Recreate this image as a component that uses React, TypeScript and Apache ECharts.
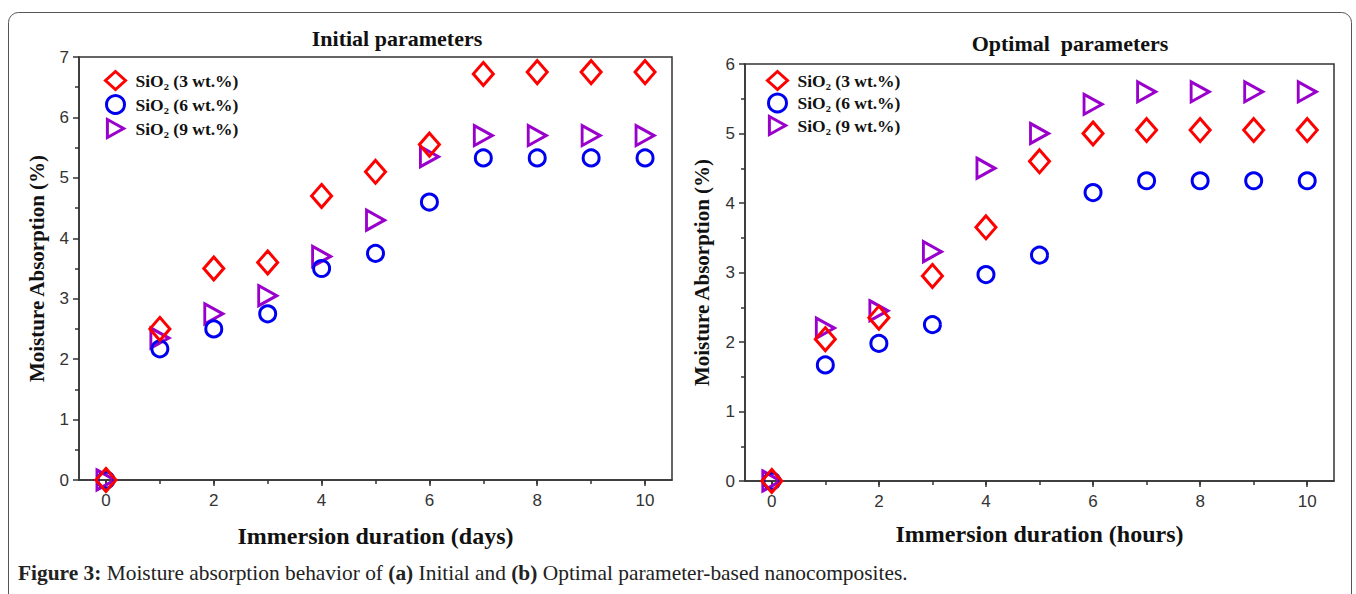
import React, { useEffect, useRef } from "react";
import * as echarts from "echarts";

const days = ["0", "1", "2", "3", "4", "5", "6", "7", "8", "9", "10"];
const seriesNames = ["SiO₂ (3 wt.%)", "SiO₂ (6 wt.%)", "SiO₂ (9 wt.%)"];

const initial3 = [0, 2.5, 3.5, 3.6, 4.7, 5.1, 5.55, 6.72, 6.75, 6.75, 6.75];
const initial6 = [0, 2.17, 2.5, 2.75, 3.5, 3.75, 4.6, 5.33, 5.33, 5.33, 5.33];
const initial9 = [0, 2.35, 2.75, 3.05, 3.7, 4.3, 5.35, 5.7, 5.7, 5.7, 5.7];

const optimal3 = [0, 2.04, 2.35, 2.95, 3.65, 4.6, 5.0, 5.05, 5.05, 5.05, 5.05];
const optimal6 = [0, 1.67, 1.98, 2.25, 2.97, 3.25, 4.15, 4.32, 4.32, 4.32, 4.32];
const optimal9 = [0, 2.2, 2.45, 3.3, 4.5, 5.0, 5.42, 5.6, 5.6, 5.6, 5.6];

const titles = ["Initial parameters", "Optimal  parameters"];
const xNames = ["Immersion duration (days)", "Immersion duration (hours)"];
const yName = "Moisture Absorption (%)";
const yMax = [7, 6];

const RED = "#ff0000";
const BLUE = "#0000f0";
const PURPLE = "#9900cc";

const serif = "'Liberation Serif', 'DejaVu Serif', serif";
const sans = "'Liberation Sans', Arial, sans-serif";

const TRI = "path://M0,0L18,10L0,20Z";

const symbolDefs = [
  { symbol: "diamond", size: [20, 23], color: RED },
  { symbol: "circle", size: [16, 16], color: BLUE },
  { symbol: TRI, size: [18, 20], color: PURPLE },
];

export default function App() {
  const ref = useRef<HTMLDivElement>(null);
  useEffect(() => {
    if (!ref.current) return;
    const chart = echarts.init(ref.current, undefined, { renderer: "svg" });

    const grids = [
      { left: 79, top: 57, width: 593, height: 423 },
      { left: 745, top: 64, width: 589, height: 417 },
    ];
    const xAxes: any[] = [];
    const yAxes: any[] = [];
    grids.forEach((_, gi) => {
      xAxes.push({
        type: "category",
        gridIndex: gi,
        data: days,
        boundaryGap: true,
        name: xNames[gi],
        nameLocation: "middle",
        nameGap: gi === 0 ? 44 : 41,
        nameTextStyle: { fontFamily: serif, fontWeight: "bold", fontSize: 24, color: "#111" },
        axisLine: { lineStyle: { color: "#333", width: 1.5 } },
        axisTick: { show: true, alignWithLabel: true, interval: 1, length: 6, lineStyle: { color: "#333", width: 1.5 } },
        axisLabel: { interval: 1, fontFamily: sans, fontSize: 17, color: "#333", margin: 12 },
        splitLine: { show: false },
      });
      xAxes.push({
        type: "category",
        gridIndex: gi,
        data: days,
        boundaryGap: true,
        position: "bottom",
        axisLine: { show: false },
        axisTick: { show: true, alignWithLabel: true, interval: 0, length: 4, lineStyle: { color: "#333", width: 1.5 } },
        axisLabel: { show: false },
        splitLine: { show: false },
      });
      yAxes.push({
        type: "value",
        gridIndex: gi,
        min: 0,
        max: yMax[gi],
        interval: 1,
        name: yName,
        nameLocation: "middle",
        nameGap: gi === 0 ? 32 : 33,
        nameTextStyle: { fontFamily: serif, fontWeight: "bold", fontSize: 21, color: "#111" },
        axisLine: { show: true, lineStyle: { color: "#333", width: 1.5 } },
        axisTick: { show: true, length: 6, lineStyle: { color: "#333", width: 1.5 } },
        minorTick: { show: true, splitNumber: 2, length: 4, lineStyle: { color: "#333", width: 1.5 } },
        axisLabel: { fontFamily: sans, fontSize: 17, color: "#333", margin: 10 },
        splitLine: { show: false },
      });
    });

    const dataSets = [
      [initial3, initial6, initial9],
      [optimal3, optimal6, optimal9],
    ];
    const series: any[] = [];
    dataSets.forEach((set, gi) => {
      set.forEach((vals, si) => {
        const d = symbolDefs[si];
        series.push({
          type: "scatter",
          name: seriesNames[si],
          xAxisIndex: gi * 2,
          yAxisIndex: gi,
          data: vals.map((v, i) => [i, v]),
          symbol: d.symbol,
          symbolSize: d.size,
          itemStyle: { color: "rgba(255,255,255,0)", borderColor: d.color, borderWidth: 3, opacity: 1 },
          emphasis: { disabled: true },
          z: 3 - si,
        });
      });
    });

    const legendBase = (left: number, top: number, gap: number) => ({
      orient: "vertical",
      left,
      top,
      itemWidth: 20,
      itemHeight: 18,
      itemGap: gap,
      selectedMode: false,
      data: seriesNames.map((n, i) => ({
        name: n,
        icon: symbolDefs[i].symbol,
        itemStyle: { color: "rgba(255,255,255,0)", borderColor: symbolDefs[i].color, borderWidth: 3, opacity: 1 },
      })),
      textStyle: { fontFamily: serif, fontWeight: "bold", fontSize: 17.5, lineHeight: 18, color: "#111", padding: [0, 0, 0, 5] },
    });

    chart.setOption({
      animation: false,
      backgroundColor: "#fff",
      grid: grids.map((g) => ({ ...g, show: true, borderColor: "#333", borderWidth: 1.5, backgroundColor: "transparent" })),
      xAxis: xAxes,
      yAxis: yAxes,
      legend: [legendBase(99, 65, 3), legendBase(761, 65, 1.5)],
      series,
      graphic: [
        {
          type: "rect",
          shape: { x: 8.5, y: 12.5, width: 1343, height: 640, r: 10 },
          style: { fill: "none", stroke: "#555", lineWidth: 1 },
          silent: true,
        },
        {
          type: "text",
          x: 397,
          y: 38,
          style: { text: titles[0], font: `bold 22px ${serif}`, fill: "#111", align: "center", verticalAlign: "middle" },
        },
        {
          type: "text",
          x: 1070,
          y: 43,
          style: { text: titles[1], font: `bold 22px ${serif}`, fill: "#111", align: "center", verticalAlign: "middle" },
        },
        {
          type: "text",
          x: 18,
          y: 573,
          style: {
            text: "{b|Figure 3:} Moisture absorption behavior of {b|(a)} Initial and {b|(b)} Optimal parameter-based nanocomposites.",
            font: `21.4px ${serif}`,
            fill: "#222",
            verticalAlign: "middle",
            rich: {
              b: { fontWeight: "bold", fontFamily: serif, fontSize: 21.4, fill: "#222" },
            },
          },
        },
      ],
    });
    return () => chart.dispose();
  }, []);
  return <div ref={ref} style={{ position: "absolute", left: 0, top: 0, width: 1356, height: 594 }} />;
}
